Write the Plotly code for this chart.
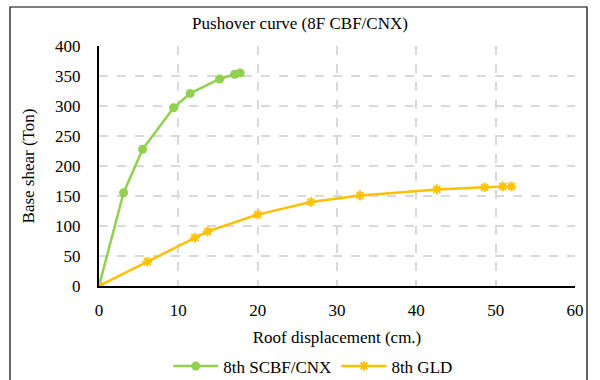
import plotly.graph_objects as go

scbf_x = [0, 3.1, 5.5, 9.4, 11.5, 15.2, 17.1, 17.8]
scbf_y = [0, 155.5, 228, 297, 321, 345, 353, 355]
gld_x = [0, 6.1, 12.1, 13.7, 20.0, 26.7, 32.9, 42.6, 48.6, 50.9, 52.0]
gld_y = [0, 40.5, 80.5, 91, 119, 140, 151, 161, 164.5, 166, 166]

FAM = "'Liberation Serif', 'Times New Roman', Times, serif"
def f(size):
    return dict(family=FAM, size=size, color="black")

fig = go.Figure()
fig.add_trace(go.Scatter(x=scbf_x, y=scbf_y, mode="lines+markers", name="8th SCBF/CNX",
                         line=dict(color="#92D050", width=2.5),
                         marker=dict(symbol="circle", size=9, color="#92D050")))
fig.add_trace(go.Scatter(x=gld_x, y=gld_y, mode="lines+markers", name="8th GLD",
                         line=dict(color="#FFC000", width=2.5),
                         marker=dict(symbol="asterisk", size=8, color="#FFC000",
                                     line=dict(color="#FFC000", width=2))))

fig.update_layout(
    width=600, height=380,
    margin=dict(l=99, r=25, t=46, b=94, autoexpand=False),
    paper_bgcolor="white", plot_bgcolor="white",
    font=f(17),
    title=dict(text="Pushover curve (8F CBF/CNX)", x=0.5, xanchor="center",
               y=0.94, yanchor="middle", font=f(17)),
    xaxis=dict(range=[0, 60], dtick=10, showgrid=True, gridcolor="#D9D9D9",
               griddash="dash", gridwidth=1.5, showline=True, linecolor="black",
               linewidth=2, zeroline=False, ticks="", tickfont=f(17),
               ticklabelstandoff=8,
               title=dict(text="Roof displacement (cm.)", standoff=12, font=f(17))),
    yaxis=dict(range=[0, 400], dtick=50, showgrid=True, gridcolor="#D9D9D9",
               griddash="dash", gridwidth=1.5, showline=True, linecolor="black",
               linewidth=2, zeroline=False, ticks="", tickfont=f(17),
               ticklabelstandoff=13,
               title=dict(text="Base shear (Ton)", standoff=16, font=f(17))),
    legend=dict(orientation="h", x=0.45, xanchor="center", y=-0.335, yanchor="middle",
                font=f(17), itemwidth=45, bgcolor="rgba(0,0,0,0)"),
    showlegend=True,
)
fig.add_shape(type="rect", xref="paper", yref="paper",
              x0=-89/476, x1=(587-99)/476, y0=-(390-286)/240, y1=(286-7)/240,
              line=dict(color="black", width=1.2), fillcolor="rgba(0,0,0,0)")
fig.write_html("out.html")
